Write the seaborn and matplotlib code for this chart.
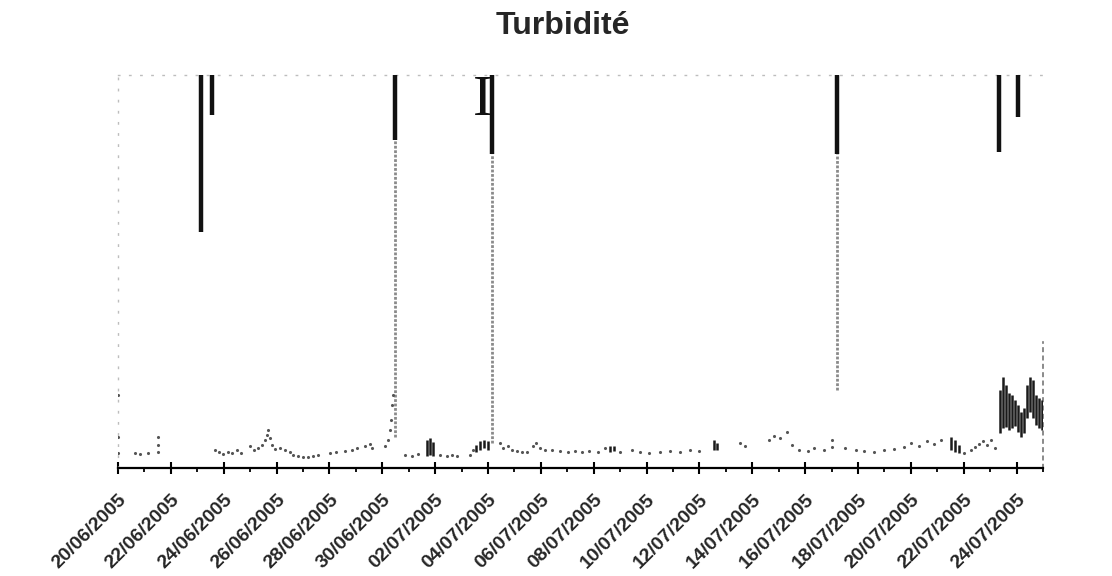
import numpy as np
import pandas as pd
import matplotlib
matplotlib.use("Agg")
import matplotlib.pyplot as plt
import matplotlib.dates as mdates
import matplotlib.transforms as mtransforms
import seaborn as sns

# ---------------- data (days since 20/06/2005 00:00, turbidity in arbitrary units 0-100) ----
start_date = "2005-06-20"
end_date = "2005-07-25"

tick_labels = ["20/06/2005", "22/06/2005", "24/06/2005", "26/06/2005", "28/06/2005",
               "30/06/2005", "02/07/2005", "04/07/2005", "06/07/2005", "08/07/2005",
               "10/07/2005", "12/07/2005", "14/07/2005", "16/07/2005", "18/07/2005",
               "20/07/2005", "22/07/2005", "24/07/2005"]

# isolated readings near the baseline
base_t = [0.00, 0.00, 0.00, 0.64, 0.83, 1.13, 1.51, 1.51, 1.51,
          3.67, 3.82, 3.97, 4.16, 4.31, 4.50, 4.65,
          4.99, 5.14, 5.29, 5.44, 5.56, 5.63, 5.67, 5.75, 5.82, 5.94, 6.12, 6.31, 6.50,
          6.62, 6.81, 6.99, 7.18, 7.37, 7.56,
          8.02, 8.24, 8.58, 8.85, 9.04, 9.34, 9.53, 9.60,
          10.09, 10.21, 10.28, 10.32, 10.36, 10.40,
          10.85, 11.12, 11.34, 12.17, 12.44, 12.63, 12.82, 13.31, 13.42,
          14.44, 14.56, 14.74, 14.90, 15.09, 15.27, 15.46, 15.69, 15.80, 15.95,
          16.14, 16.41, 16.71, 17.01, 17.28, 17.54, 17.84, 18.15,
          18.41, 18.98, 19.43, 19.74, 20.11, 20.49, 20.87, 21.25, 21.63, 22.00,
          23.52, 23.71, 24.65, 24.84, 25.03, 25.33, 25.52, 25.78, 26.09, 26.35,
          26.73, 27.03, 27.03, 27.49, 27.94, 28.24, 28.62, 29.00, 29.38, 29.75,
          30.02, 30.32, 30.62, 30.89, 31.15, 32.02, 32.29, 32.44, 32.59, 32.74,
          32.89, 33.04, 33.19]
base_v = [18.6, 7.9, 3.8, 3.8, 3.6, 3.8, 7.9, 5.9, 4.1,
          4.6, 4.1, 3.6, 4.1, 3.8, 4.6, 3.8,
          5.6, 4.6, 5.1, 5.9, 7.1, 8.4, 9.7, 7.6, 5.9, 4.8, 5.1, 4.6, 4.1,
          3.3, 3.1, 2.8, 2.8, 3.1, 3.3,
          3.8, 4.1, 4.3, 4.6, 5.1, 5.6, 6.1, 5.1,
          5.6, 7.1, 9.7, 12.2, 16.0, 18.6,
          3.3, 3.1, 3.6, 3.3, 3.1, 3.3, 3.1, 3.3, 4.6,
          6.4, 5.1, 5.6, 4.6, 4.3, 4.1, 4.1, 5.6, 6.4, 5.1,
          4.6, 4.6, 4.3, 4.1, 4.3, 4.1, 4.3, 4.1,
          5.1, 4.1, 4.6, 4.1, 3.8, 4.1, 4.3, 4.1, 4.6, 4.3,
          6.4, 5.6, 7.1, 8.1, 7.6, 9.2, 5.9, 4.6, 4.3, 5.1,
          4.6, 7.1, 5.3, 5.1, 4.6, 4.3, 4.1, 4.6, 4.8, 5.3,
          6.4, 5.6, 6.9, 6.1, 7.1, 3.8, 4.6, 5.3, 6.1, 6.9,
          5.9, 7.1, 5.1]

# dense bursts of readings (time, low, high)
burst_t = [11.68, 11.80, 11.91, 13.53, 13.69, 13.84, 13.99,
           18.60, 18.75, 22.57, 22.68, 31.53, 31.68, 31.83,
           33.38, 33.50, 33.61, 33.72, 33.84, 33.95, 34.06, 34.18,
           34.29, 34.40, 34.52, 34.63, 34.74, 34.86, 34.97]
burst_lo = [3.1, 3.3, 3.1, 4.1, 4.6, 5.1, 4.6,
            4.1, 4.3, 4.6, 4.6, 4.6, 4.1, 3.8,
            8.9, 10.2, 10.4, 9.7, 10.2, 10.7, 9.2, 7.9,
            8.9, 12.7, 14.2, 12.7, 10.9, 10.2, 9.7]
burst_hi = [7.1, 7.6, 6.6, 5.9, 6.9, 7.1, 6.9,
            5.6, 5.6, 7.1, 6.4, 7.9, 7.1, 5.9,
            19.8, 23.2, 21.1, 19.1, 18.6, 17.3, 16.0, 14.2,
            15.3, 21.1, 23.2, 22.4, 18.6, 17.8, 17.3]

# saturated peaks: time, lower end of the dense part, lower end of the sparse tail
peak_t = [3.14, 3.55, 10.47, 14.14, 27.22, 33.35, 34.06]
peak_dense_lo = [60.1, 89.8, 83.5, 80.0, 80.0, 80.4, 89.3]
peak_tail_lo = [60.1, 89.8, 8.0, 6.4, 19.8, 80.4, 89.3]
peak_top = 100.0

marker_t = 13.80   # the "I" mark next to the 04/07 peak
marker_v = 89.8

# ---------------- figure ----------------
sns.set_style("white")
plt.rcParams["font.family"] = ["Liberation Sans", "DejaVu Sans"]

fig = plt.figure(figsize=(11.12, 5.76), dpi=100)
ax = fig.add_axes([118 / 1112, 1 - 468 / 576, (1043 - 118) / 1112, (468 - 75) / 576])

t0 = pd.Timestamp(start_date)
def to_dates(days):
    return (t0 + pd.to_timedelta(np.asarray(days, dtype=float), unit="D")).to_numpy()

# sparse tails of the peaks
ax.vlines(to_dates(peak_t), peak_tail_lo, peak_dense_lo, colors="#8a8a8a",
          linewidth=2.0, linestyles=(0, (1.0, 0.6)), zorder=2)
# saturated dense parts
ax.vlines(to_dates(peak_t), peak_dense_lo, [peak_top] * len(peak_t), colors="#111111",
          linewidth=3.2, zorder=3)
# bursts
ax.vlines(to_dates(burst_t), burst_lo, burst_hi, colors="#1a1a1a", linewidth=1.8, zorder=3)
# isolated readings
df = pd.DataFrame({"t": to_dates(base_t), "v": base_v})
sns.scatterplot(data=df, x="t", y="v", ax=ax, s=5, color="#555555", linewidth=0, zorder=3)

ax.text(mdates.date2num(to_dates([marker_t])[0]), marker_v, "I", family="Liberation Serif",
        fontsize=42, ha="center", va="baseline", color="#111111")

ax.set_xlim(to_dates([0])[0], pd.Timestamp(end_date).to_numpy())
ax.set_ylim(0, 100)
ax.set_xlabel("")
ax.set_ylabel("")
ax.set_yticks([])

major = pd.to_datetime(tick_labels, format="%d/%m/%Y")
ax.set_xticks(major.to_numpy())
ax.set_xticklabels(tick_labels, rotation=45, ha="right", va="top", rotation_mode="anchor",
                   fontsize=14, fontweight="bold")
shift = mtransforms.ScaledTranslation(-11 / 100, 0, fig.dpi_scale_trans)
for lab in ax.get_xticklabels():
    lab.set_transform(lab.get_transform() + shift)
ax.set_xticks(pd.date_range(start_date, end_date, freq="D").to_numpy(), minor=True)
ax.tick_params(axis="x", which="major", direction="inout", length=9, width=1.5,
               color="black", pad=12, bottom=True)
ax.tick_params(axis="x", which="minor", direction="out", length=3.2, width=1.3,
               color="black", bottom=True)

for side in ["left", "top"]:
    ax.spines[side].set_color("#bdbdbd")
    ax.spines[side].set_linewidth(1.0)
    ax.spines[side].set_linestyle((0, (1, 7)))
ax.spines["right"].set_color("#777777")
ax.spines["right"].set_linewidth(1.2)
ax.spines["right"].set_linestyle((0, (2, 3)))
ax.spines["right"].set_bounds(0, 32)
ax.spines["bottom"].set_color("black")
ax.spines["bottom"].set_linewidth(1.6)

fig.text(563 / 1112, 1 - 34 / 576, "Turbidité", ha="center", va="baseline",
         fontsize=23, fontweight="bold")

fig.savefig("out.png", dpi=100, facecolor="white")
